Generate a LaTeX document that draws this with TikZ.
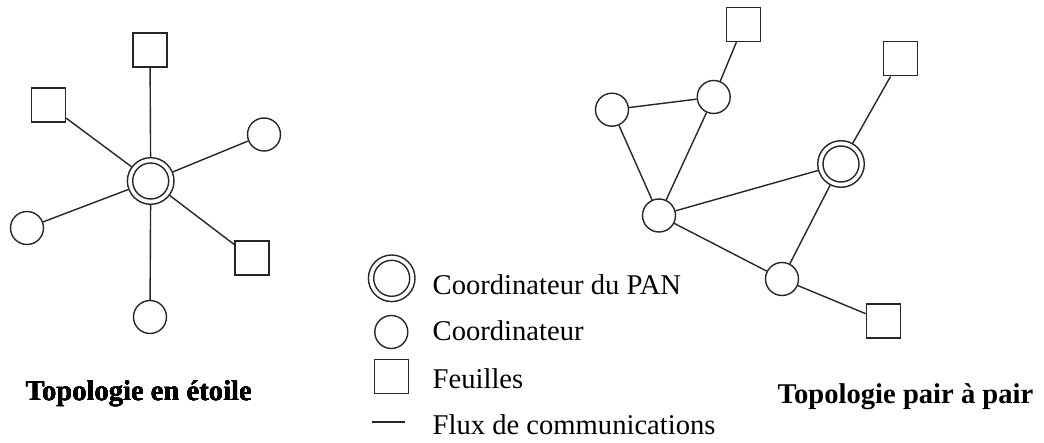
\documentclass[tikz,border=0pt]{standalone}
\usepackage{fontspec}
\setmainfont{Liberation Serif}
\usetikzlibrary{positioning}
\tikzstyle{coord}=[draw,circle,minimum size=16.5pt,inner sep=0pt]
\tikzstyle{pan}=[draw,circle,minimum size=23.3pt,inner sep=0pt,
  path picture={\draw (path picture bounding box.center) circle (9pt);}]
\tikzstyle{leaf}=[draw,rectangle,minimum size=17pt,inner sep=0pt]
\tikzstyle{legende}=[inner sep=0pt,anchor=base west,font=\fontsize{14.3}{17}\selectfont]
\tikzstyle{titre}=[legende,font=\fontsize{14.3}{17}\selectfont\bfseries]
\newcommand{\newNode}[3]{\node[#2](#1) at (#3){};}
\newcommand{\newLink}[2]{\draw (#1) -- (#2);}

\begin{document}
\begin{tikzpicture}[x=0.5pt,y=-0.5pt,
        line width=0.7pt,draw=black!85
        ]
        \useasboundingbox (0,0) rectangle (1044,443);
        % topologie en etoile
        \newNode{S}{pan}{150.7,181}
        \newNode{S1}{leaf}{150,50}
        \newNode{S2}{leaf}{48.5,105}
        \newNode{S3}{coord}{264,134.5}
        \newNode{S4}{coord}{27,228}
        \newNode{S5}{leaf}{252,258}
        \newNode{S6}{coord}{150,317}
        \foreach \n in {S1,S2,S3,S4,S5,S6}
          \newLink{S}{\n}
        \node[titre](tEtoile) at (25,400){Topologie en étoile};

        % topologie pair a pair
        \newNode{P}{pan}{841,164}
        \newNode{A}{coord}{612,109.7}
        \newNode{B}{coord}{713.7,97}
        \newNode{C}{coord}{659,215.5}
        \newNode{D}{coord}{782,279}
        \newNode{F1}{leaf}{743.7,24.5}
        \newNode{F2}{leaf}{900.5,58.8}
        \newNode{F3}{leaf}{883.3,321}
        \newLink{A}{B}
        \newLink{A}{C}
        \newLink{B}{C}
        \newLink{B}{F1}
        \newLink{C}{P}
        \newLink{C}{D}
        \newLink{P}{D}
        \newLink{P}{F2}
        \newLink{D}{F3}
        \node[titre](tPair) at (777,403){Topologie pair à pair};

        % legende
        \newNode{LPan}{pan}{391.7,278.3}
        \newNode{LCoord}{coord}{391.3,332}
        \newNode{LLeaf}{leaf}{391.7,376.7}
        \coordinate (L1) at (372,422);
        \coordinate (L2) at (405,422);
        \newLink{L1}{L2}
        \node[legende](tPan) at (432,294){Coordinateur du PAN};
        \node[legende](tCoord) at (432,341){Coordinateur};
        \node[legende](tLeaf) at (432,388){Feuilles};
        \node[legende](tFlux) at (432,434){Flux de communications};
\end{tikzpicture}
\end{document}
